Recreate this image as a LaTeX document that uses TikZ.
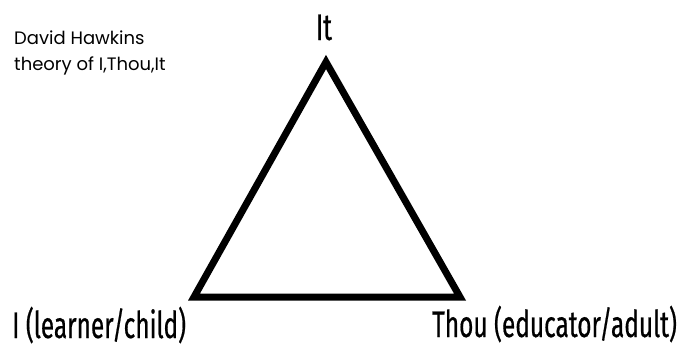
\documentclass[tikz,border=0pt]{standalone}
\usepackage{fontspec}
\usepackage{tikz}
\usetikzlibrary{calc}
\newfontfamily\condfont[FakeStretch=0.66,FakeBold=0.5]{Fira Sans}
\newfontfamily\notefont{Poppins}
\tikzset{
  vlabel/.style = {font=\condfont\fontsize{37}{37}\selectfont, inner sep=0pt},
  note/.style = {font=\notefont\fontsize{18}{18}\selectfont, inner sep=0pt, anchor=base west},
  side/.style = {line width=7pt, line join=miter}
}

\begin{document}
\begin{tikzpicture}[x=1pt,y=-1pt]
        \useasboundingbox (0,0) rectangle (694,348);
            \coordinate (it) at (326,62);
            \coordinate (i) at (194,297);
            \coordinate (thou) at (460,297);
            \draw[side] (it) -- (thou) -- (i) -- cycle;
            \node[vlabel, anchor=base] (itlab) at (324,40) {It};
            \node[vlabel, anchor=base west] (ilab) at (12,338) {I (learner/child)};
            \node[vlabel, anchor=base west] (thoulab) at (432,337) {Thou (educator/adult)};
            \node[note] (title) at (14,45) {David Hawkins};
            \node[note] (sub) at (14,70) {theory of I,Thou,It};
        \end{tikzpicture}
\end{document}
